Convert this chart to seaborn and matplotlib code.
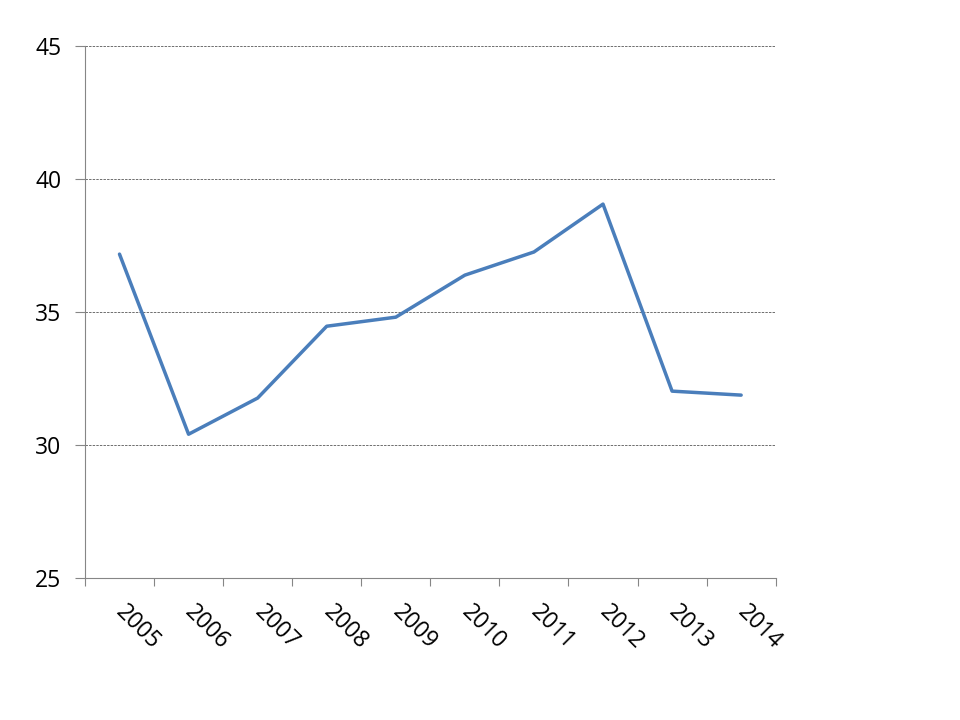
import numpy as np
import matplotlib.pyplot as plt
import seaborn as sns
import pandas as pd

# Chart data
years = ['2005', '2006', '2007', '2008', '2009', '2010', '2011', '2012', '2013', '2014']
values = [37.18, 30.41, 31.77, 34.47, 34.81, 36.39, 37.26, 39.06, 32.03, 31.88]
y_ticks = [25, 30, 35, 40, 45]

sns.set_style('white')
plt.rcParams['font.family'] = ['Open Sans', 'DejaVu Sans']

df = pd.DataFrame({'pos': np.arange(len(years)), 'value': values})

fig = plt.figure(figsize=(9.6, 7.2), dpi=100)
ax = fig.add_axes([0.0885, 0.197, 0.7195, 0.739])

sns.lineplot(data=df, x='pos', y='value', ax=ax, color='#4A7EBB', linewidth=2.5)

ax.set_xlim(-0.5, len(years) - 0.5)
ax.set_ylim(25, 45)
ax.set_yticks(y_ticks)
ax.set_yticklabels([str(t) for t in y_ticks], fontsize=16.5, color='black')
ax.yaxis.grid(True, color='#6e6e6e', linewidth=0.7, linestyle=(0, (2.5, 1.2)))
ax.set_axisbelow(True)

# category boundaries as major ticks, labels at centres
ax.set_xticks(np.arange(-0.5, len(years), 1.0))
ax.set_xticklabels([])
ax.set_xticks(np.arange(len(years)), minor=True)
ax.set_xticklabels(years, minor=True, rotation=-45, ha='left', va='center',
                   rotation_mode='anchor', fontsize=16.5, color='black')
ax.tick_params(axis='x', which='major', direction='out', length=6, color='#868686', width=0.8, bottom=True)
ax.tick_params(axis='x', which='minor', length=0, pad=22)
ax.tick_params(axis='y', direction='out', length=7, color='#868686', width=0.8, left=True, pad=10)

ax.set_xlabel('')
ax.set_ylabel('')
for side in ['top', 'right']:
    ax.spines[side].set_visible(False)
for side in ['left', 'bottom']:
    ax.spines[side].set_color('#868686')
    ax.spines[side].set_linewidth(0.8)

fig.savefig('out.png', dpi=100)
